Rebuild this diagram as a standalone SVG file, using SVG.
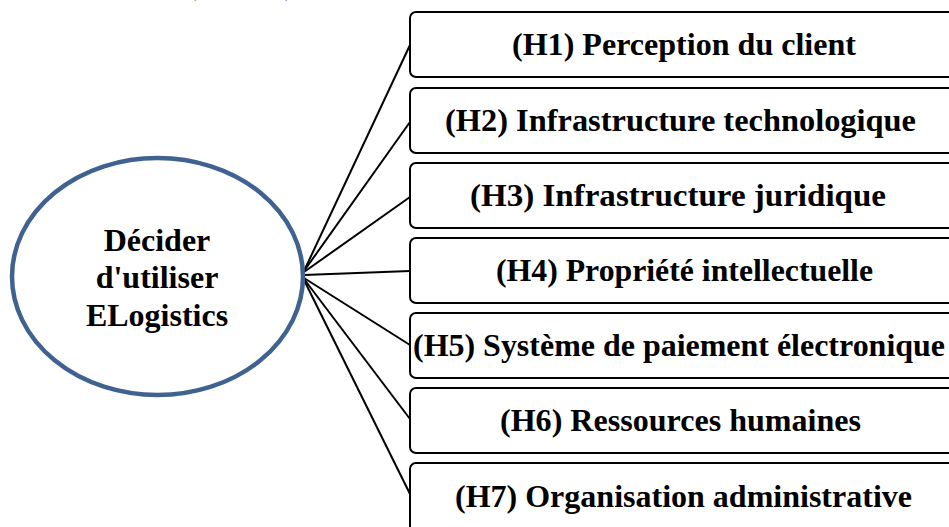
<svg xmlns="http://www.w3.org/2000/svg" width="949" height="527" viewBox="0 0 949 527">
  <style>
    .box { fill: #ffffff; stroke: #000000; stroke-width: 2; }
    .lbl { font-family: "Liberation Serif", "Times New Roman", serif; font-weight: bold; font-size: 32px; fill: #000000; }
    .core { font-family: "Liberation Serif", "Times New Roman", serif; font-weight: bold; font-size: 32px; fill: #000000; text-anchor: middle; }
    .link { stroke: #000000; stroke-width: 2; fill: none; }
    .frag { font-family: "Liberation Sans", Arial, sans-serif; font-style: italic; font-size: 20px; fill: #000000; }
  </style>
  <rect width="949" height="527" fill="#ffffff"/>

  <!-- remnants of a caption line above -->
  <text class="frag" x="194" y="-2">,</text>
  <text class="frag" x="285" y="-2">,</text>

  <g id="connectors">
    <line class="link" x1="304" y1="271" x2="410" y2="45"/>
    <line class="link" x1="304" y1="271" x2="410" y2="122"/>
    <line class="link" x1="304" y1="272" x2="410" y2="197"/>
    <line class="link" x1="304" y1="275" x2="410" y2="271"/>
    <line class="link" x1="304" y1="278" x2="410" y2="345"/>
    <line class="link" x1="304" y1="279" x2="410" y2="419"/>
    <line class="link" x1="304" y1="280" x2="410" y2="494"/>
  </g>

  <g id="decision">
    <ellipse cx="157.5" cy="276.5" rx="145.5" ry="118.5" fill="#ffffff" stroke="#3F6290" stroke-width="4.5"/>
    <text class="core" x="157" y="251">Décider</text>
    <text class="core" x="157" y="288">d'utiliser</text>
    <text class="core" x="157" y="326">ELogistics</text>
  </g>

  <g id="h1">
    <rect class="box" x="410" y="12" width="545" height="65" rx="6"/>
    <text class="lbl" x="512" y="55" textLength="344" lengthAdjust="spacingAndGlyphs">(H1) Perception du client</text>
  </g>
  <g id="h2">
    <rect class="box" x="410" y="88" width="545" height="65" rx="6"/>
    <text class="lbl" x="445" y="131" textLength="471" lengthAdjust="spacingAndGlyphs">(H2) Infrastructure technologique</text>
  </g>
  <g id="h3">
    <rect class="box" x="410" y="163" width="545" height="65" rx="6"/>
    <text class="lbl" x="470" y="206" textLength="416" lengthAdjust="spacingAndGlyphs">(H3) Infrastructure juridique</text>
  </g>
  <g id="h4">
    <rect class="box" x="410" y="238" width="545" height="65" rx="6"/>
    <text class="lbl" x="496" y="281" textLength="377" lengthAdjust="spacingAndGlyphs">(H4) Propriété intellectuelle</text>
  </g>
  <g id="h5">
    <rect class="box" x="410" y="313" width="545" height="65" rx="6"/>
    <text class="lbl" x="413" y="356" textLength="532" lengthAdjust="spacingAndGlyphs">(H5) Système de paiement électronique</text>
  </g>
  <g id="h6">
    <rect class="box" x="410" y="388" width="545" height="65" rx="6"/>
    <text class="lbl" x="500" y="431" textLength="361" lengthAdjust="spacingAndGlyphs">(H6) Ressources humaines</text>
  </g>
  <g id="h7">
    <rect class="box" x="410" y="463" width="545" height="80" rx="6"/>
    <text class="lbl" x="455" y="507" textLength="457" lengthAdjust="spacingAndGlyphs">(H7) Organisation administrative</text>
  </g>
</svg>
